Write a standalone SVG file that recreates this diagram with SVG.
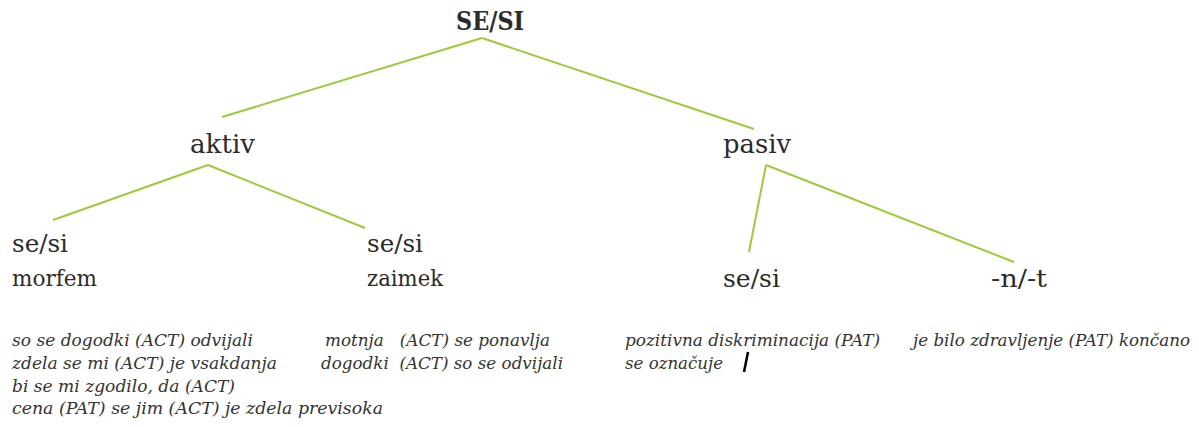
<svg xmlns="http://www.w3.org/2000/svg" width="1199" height="427" viewBox="0 0 1199 427">
<style>
text{font-family:"DejaVu Serif","Liberation Serif",serif;fill:#2b2b2b;white-space:pre}
.root{font-size:26px;font-weight:bold}
.l1{font-size:26px}
.l2{font-size:24px}
.l3{font-size:22px}
.ex{font-size:16.5px;font-style:italic;fill:#333}
.edge{stroke:#9bcb3c;stroke-width:2;fill:none}
</style>
<rect width="1199" height="427" fill="#fff"/>
<g id="connectors">
<line class="edge" x1="482" y1="38" x2="222" y2="117"/>
<line class="edge" x1="482" y1="38" x2="754" y2="129"/>
<line class="edge" x1="208" y1="165" x2="53" y2="220"/>
<line class="edge" x1="208" y1="165" x2="365" y2="228"/>
<line class="edge" x1="766" y1="165" x2="749" y2="252"/>
<line class="edge" x1="766" y1="165" x2="1014" y2="262"/>
</g>
<g id="node-sesi"><text class="root" x="456" y="30" textLength="68" lengthAdjust="spacingAndGlyphs">SE/SI</text></g>
<g id="node-aktiv"><text class="l1" x="190" y="153" textLength="65" lengthAdjust="spacingAndGlyphs">aktiv</text></g>
<g id="node-pasiv"><text class="l1" x="723" y="153" textLength="68" lengthAdjust="spacingAndGlyphs">pasiv</text></g>
<g id="node-morfem">
<text class="l2" x="12" y="252" textLength="56" lengthAdjust="spacingAndGlyphs">se/si</text>
<text class="l3" x="12" y="286" textLength="85" lengthAdjust="spacingAndGlyphs">morfem</text>
</g>
<g id="node-zaimek">
<text class="l2" x="367" y="252" textLength="56" lengthAdjust="spacingAndGlyphs">se/si</text>
<text class="l3" x="367" y="286" textLength="76" lengthAdjust="spacingAndGlyphs">zaimek</text>
</g>
<g id="node-pasiv-sesi"><text class="l2" x="723" y="287" textLength="57" lengthAdjust="spacingAndGlyphs">se/si</text></g>
<g id="node-nt"><text class="l2" x="991" y="287" textLength="56" lengthAdjust="spacingAndGlyphs">-n/-t</text></g>
<g id="examples-morfem">
<text class="ex" x="12" y="346" textLength="241" lengthAdjust="spacingAndGlyphs">so se dogodki (ACT) odvijali</text>
<text class="ex" x="12" y="369" textLength="265" lengthAdjust="spacingAndGlyphs">zdela se mi (ACT) je vsakdanja</text>
<text class="ex" x="12" y="392" textLength="223" lengthAdjust="spacingAndGlyphs">bi se mi zgodilo, da (ACT)</text>
<text class="ex" x="12" y="414" textLength="371" lengthAdjust="spacingAndGlyphs">cena (PAT) se jim (ACT) je zdela previsoka</text>
</g>
<g id="examples-zaimek">
<text class="ex" x="325" y="346" textLength="225" lengthAdjust="spacingAndGlyphs">motnja   (ACT) se ponavlja</text>
<text class="ex" x="321" y="369" textLength="242" lengthAdjust="spacingAndGlyphs">dogodki  (ACT) so se odvijali</text>
</g>
<g id="examples-pasiv-sesi">
<text class="ex" x="625" y="346" textLength="255" lengthAdjust="spacingAndGlyphs">pozitivna diskriminacija (PAT)</text>
<text class="ex" x="625" y="369" textLength="98" lengthAdjust="spacingAndGlyphs">se označuje</text>
<path d="M748 352 L744 372" stroke="#000" stroke-width="2.5" fill="none"/>
</g>
<g id="examples-nt">
<text class="ex" x="913" y="346" textLength="277" lengthAdjust="spacingAndGlyphs">je bilo zdravljenje (PAT) končano</text>
</g>
</svg>
